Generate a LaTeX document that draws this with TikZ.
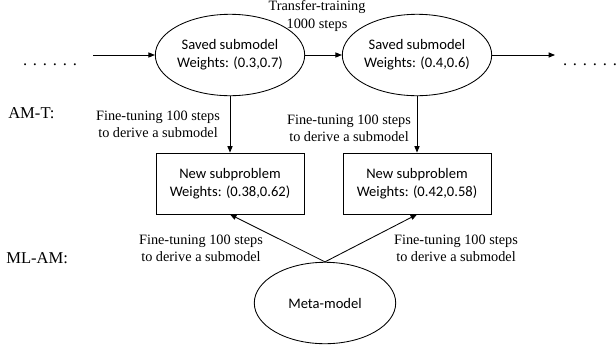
\documentclass[tikz,border=0pt]{standalone}
\usepackage{fontspec}
\setmainfont{Liberation Serif}
\newfontfamily\boxfont{Carlito}
\usepackage{tikz}
\usetikzlibrary{arrows.meta,shapes.geometric}
\definecolor{ink}{HTML}{000000}
\tikzset{
  conn/.style={draw=ink, line width=0.6pt, -{Triangle[length=4.5pt,width=3.6pt]}},
  model/.style={ellipse, draw=ink, line width=0.6pt, minimum width=99pt, minimum height=57pt,
    inner sep=0pt, align=center, font=\boxfont\fontsize{10.2}{12.6}\selectfont},
  subprob/.style={rectangle, draw=ink, line width=0.6pt, minimum width=103.6pt, minimum height=42.7pt,
    inner sep=0pt, align=center, font=\boxfont\fontsize{10.2}{12.6}\selectfont},
  lab/.style={inner sep=0pt, align=center, font=\fontsize{10}{12}\selectfont},
  rowlab/.style={inner sep=0pt, anchor=west, font=\fontsize{11.6}{13}\selectfont},
  dotrow/.style={inner sep=0pt, anchor=base, font=\fontsize{11.5}{13}\selectfont},
}
\newcommand{\dotline}{.\hskip4.1pt.\hskip4.1pt.\hskip4.1pt.\hskip4.1pt.\hskip4.1pt.}

\begin{document}
\begin{tikzpicture}[x=0.7pt,y=-0.7pt]
  \useasboundingbox (0,0) rectangle (616,352);

  % top row: saved submodels
  \node[model] (sv1) at (230,55) {Saved submodel\\Weights: (0.3,0.7)};
  \node[model] (sv2) at (417,55) {Saved submodel\\Weights: (0.4,0.6)};
  \coordinate (lin) at (93,55);
  \coordinate (rout) at (555,55);
  \node[dotrow] (dl) at (50,65) {\dotline};
  \node[dotrow] (dr) at (590,65) {\dotline};

  % derived subproblems
  \node[subprob] (np1) at (230,183.5) {New subproblem\\Weights: (0.38,0.62)};
  \node[subprob] (np2) at (417,183.5) {New subproblem\\Weights: (0.42,0.58)};

  \node[model] (meta) at (325,303) {Meta-model};

  \draw[conn] (lin) -- (sv1);
  \draw[conn] (sv1) -- (sv2);
  \draw[conn] (sv2) -- (rout);
  \draw[conn] (sv1) -- (np1);
  \draw[conn] (sv2) -- (np2);
  \draw[conn] (meta.north) -- (np1.south);
  \draw[conn] (meta.north) -- (np2.south);

  \node[lab] (tt) at (317,16) {Transfer-training\\1000 steps};
  \node[lab] (ft1) at (158,124.5) {Fine-tuning 100 steps\\to derive a submodel};
  \node[lab] (ft2) at (349,128) {Fine-tuning 100 steps\\to derive a submodel};
  \node[lab] (ft3) at (201,248) {Fine-tuning 100 steps\\to derive a submodel};
  \node[lab] (ft4) at (456,248) {Fine-tuning 100 steps\\to derive a submodel};

  \node[rowlab] (amt) at (8,113) {AM-T:};
  \node[rowlab] (mlam) at (6,258) {ML-AM:};
\end{tikzpicture}
\end{document}
